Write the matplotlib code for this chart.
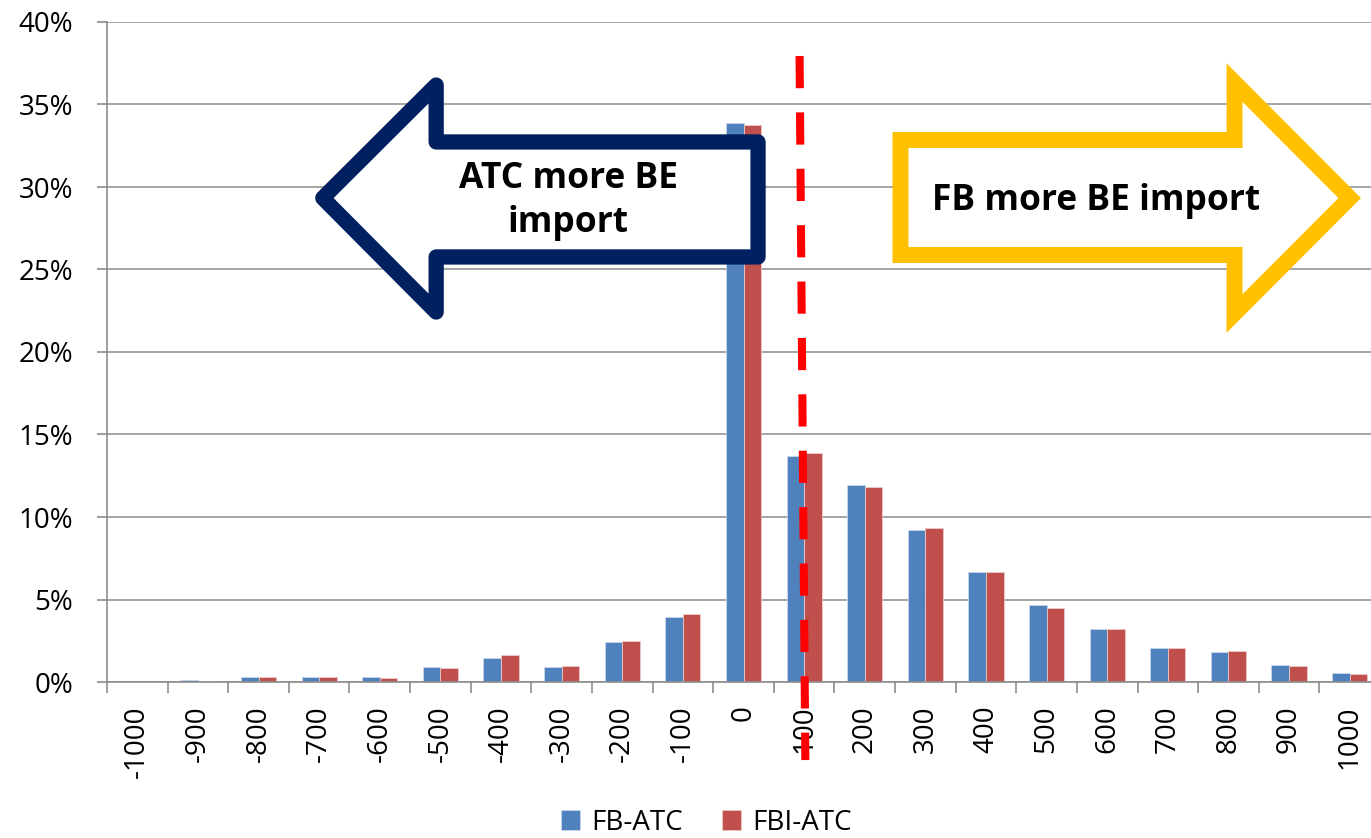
import matplotlib
matplotlib.use("Agg")
import numpy as np
import matplotlib.pyplot as plt
from matplotlib.patches import Polygon
from matplotlib.ticker import PercentFormatter

plt.rcParams["font.family"] = ["Open Sans", "DejaVu Sans"]

# DATA (shares, %)
CATEGORIES = [str(v) for v in range(-1000, 1001, 100)]
FB_ATC = [0.0, 0.12, 0.28, 0.28, 0.32, 0.89, 1.45, 0.91, 2.42, 3.96, 33.86,
          13.72, 11.94, 9.21, 6.65, 4.65, 3.21, 2.08, 1.82, 1.01, 0.53]
FBI_ATC = [0.0, 0.05, 0.32, 0.28, 0.24, 0.87, 1.64, 0.95, 2.46, 4.12, 33.74,
           13.88, 11.80, 9.33, 6.65, 4.46, 3.19, 2.04, 1.88, 0.95, 0.47]
SERIES_NAMES = ["FB-ATC", "FBI-ATC"]
Y_TICKS = [0, 5, 10, 15, 20, 25, 30, 35, 40]

# annotation shapes (category index, share %)
LEFT_ARROW_X = [3.06, 4.93, 4.93, 10.24, 10.24, 4.93, 4.93]
LEFT_ARROW_Y = [29.33, 36.18, 32.73, 32.73, 25.76, 25.76, 22.42]
RIGHT_ARROW_X = [12.59, 18.10, 18.10, 20.00, 18.10, 18.10, 12.59]
RIGHT_ARROW_Y = [32.85, 32.85, 36.33, 29.33, 22.33, 25.88, 25.88]
SPLIT_LINE_X = [10.925, 11.02]
SPLIT_LINE_Y = [37.94, -4.73]

BLUE = "#4F81BD"
RED = "#C0504D"
GRID = "#8C8C8C"

fig = plt.figure(figsize=(13.71, 8.38), dpi=100)
ax = fig.add_axes([107 / 1371, 156 / 838, 1273 / 1371, 660 / 838])

x = np.arange(len(CATEGORIES))
w = 0.29
ax.bar(x - w / 2, FB_ATC, width=w, color=BLUE, edgecolor="#C9D7EA", linewidth=0.6, zorder=2,
       label=SERIES_NAMES[0])
ax.bar(x + w / 2, FBI_ATC, width=w, color=RED, edgecolor="#EAC9C8", linewidth=0.6, zorder=2,
       label=SERIES_NAMES[1])

ax.set_xlim(-0.5, len(CATEGORIES) - 0.5)
ax.set_ylim(0, 40)
ax.set_yticks(Y_TICKS)
ax.yaxis.set_major_formatter(PercentFormatter(100, decimals=0))
ax.set_xticks(x)
ax.set_xticklabels(CATEGORIES, rotation=90, va="top", ha="center")
ax.set_xticks(np.arange(len(CATEGORIES) + 1) - 0.5, minor=True)
ax.tick_params(axis="x", which="major", length=0, pad=17, labelsize=20)
ax.tick_params(axis="x", which="minor", length=8, width=1.2, color=GRID)
ax.tick_params(axis="y", length=7.5, width=1.2, color=GRID, pad=17, labelsize=20)

ax.yaxis.grid(True, color=GRID, linewidth=1.1, zorder=0)
ax.set_axisbelow(True)
for s in ["top", "right"]:
    ax.spines[s].set_visible(False)
for s in ["left", "bottom"]:
    ax.spines[s].set_color(GRID)
    ax.spines[s].set_linewidth(1.2)

# arrows
left = Polygon(list(zip(LEFT_ARROW_X, LEFT_ARROW_Y)), closed=True, facecolor="white",
               edgecolor="#002060", linewidth=11, joinstyle="round", zorder=4)
ax.add_patch(left)
right = Polygon(list(zip(RIGHT_ARROW_X, RIGHT_ARROW_Y)), closed=True, facecolor="white",
                edgecolor="#FFC000", linewidth=11.5, joinstyle="miter", zorder=4, clip_on=False)
ax.add_patch(right)
ax.text(7.107, 29.15, "ATC more BE\nimport", ha="center", va="center", fontsize=25.5,
        fontweight="bold", linespacing=1.3, zorder=5)
ax.text(15.81, 29.15, "FB more BE import", ha="center", va="center", fontsize=25.5,
        fontweight="bold", zorder=5)

# dashed split line
ax.plot(SPLIT_LINE_X, SPLIT_LINE_Y, color="#FF0000", linewidth=5.8, dashes=(4, 3),
        solid_capstyle="butt", dash_capstyle="butt", clip_on=False, zorder=6)

fig.legend(loc="center", bbox_to_anchor=(0.515, 0.018), ncol=2, frameon=False, fontsize=20,
           handlelength=0.7, handleheight=0.7, handletextpad=0.4, columnspacing=1.4)

fig.savefig("out.png", dpi=100)
